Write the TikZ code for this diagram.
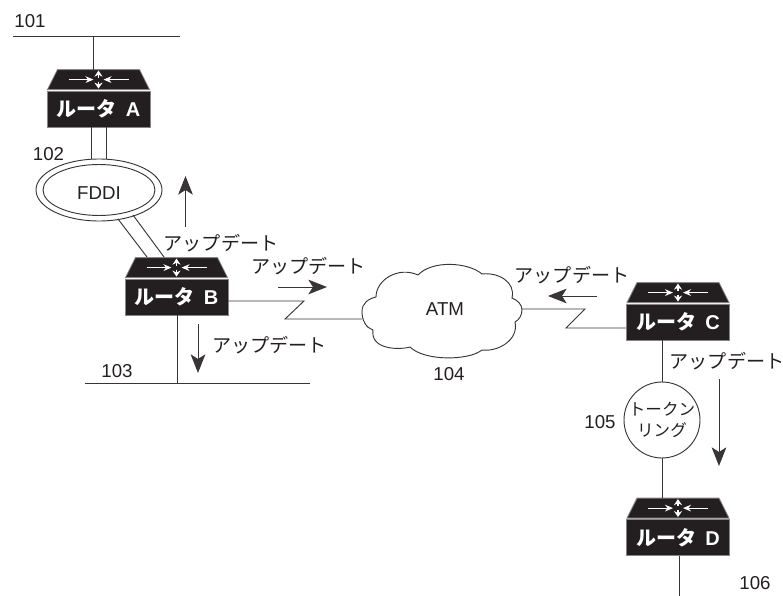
\documentclass[tikz,border=0pt]{standalone}
\usepackage{fontspec}
\setmainfont{Liberation Sans}
\newfontfamily\cjk{Noto Sans CJK JP}
\usetikzlibrary{arrows.meta, positioning, calc}
\definecolor{routerblack}{HTML}{231F20}

\tikzset{
    wire/.style={line width=0.7pt, draw=routerblack!90},
    update/.style={wire, -{Stealth[length=14pt, width=11pt, inset=3.5pt]}},
    tag/.style={font=\fontsize{14}{16}\selectfont, text=routerblack, inner sep=0pt},
    updatetext/.style={font=\fontsize{14.3}{16}\cjk\selectfont, text=routerblack, inner sep=0pt},
    routerbox/.style={fill=routerblack, draw=routerblack!55, line width=0.6pt, minimum width=77.25pt, minimum height=27pt,
        inner sep=0pt, text=white, font=\fontsize{15}{16}\bfseries\selectfont},
    routertop/.pic={
        \fill[routerblack, draw=routerblack!55, line width=0.6pt] (-51,-1) -- (-41,-21) -- (41,-21) -- (51,-1) -- cycle;
        \draw[white, line width=0.8pt, -{Stealth[length=6pt, width=5pt]}] (-30,-11) -- (-5,-11);
        \draw[white, line width=0.8pt, -{Stealth[length=6pt, width=5pt]}] (30,-11) -- (5,-11);
        \draw[white, line width=0.9pt, -{Stealth[length=4.5pt, width=6pt]}] (0,-13) -- (0,-20);
        \draw[white, line width=0.9pt, -{Stealth[length=4.5pt, width=6pt]}] (0,-9) -- (0,-2);
    }
}

\begin{document}
\begin{tikzpicture}[x=0.75pt, y=-0.75pt]
    \useasboundingbox (0,0) rectangle (783,596);

    % Routers
    \foreach \name/\x/\y/\letter in {routerA/98.5/109/A, routerB/176.5/297/B, routerC/678/322/C, routerD/678/537.5/D} {
        \node[routerbox] (\name) at (\x,\y) {{\cjk ルータ}\hspace{0.45em}\letter};
        \pic at (\name.north) {routertop};
    }

    % LAN 101
    \coordinate (lanAleft) at (13,36);
    \coordinate (lanAright) at (180,36);
    \coordinate (lanAdrop) at (93,36);
    \coordinate (routerAtop) at (93,70);
    \draw[wire] (lanAleft) -- (lanAright);
    \draw[wire] (lanAdrop) -- (routerAtop);
    \node[tag] (tagA) at (30,21) {101};

    % FDDI
    \node[tag] (fddi) at (99,193) {FDDI};
    \draw[wire] (99,190) ellipse (63 and 31);
    \draw[wire] (99,190) ellipse (56 and 25.5);
    \node[tag] (tagB) at (48.5,154) {102};
    \draw[wire] (91,127) -- (91,159);
    \draw[wire] (106,127) -- (106,159);
    \draw[wire] (118,219) -- (147,257);
    \draw[wire] (133,215) -- (164,257);

    % LAN 103
    \coordinate (lanBleft) at (85,383);
    \coordinate (lanBright) at (310,383);
    \coordinate (lanBdrop) at (177,383);
    \draw[wire] (lanBleft) -- (lanBright);
    \draw[wire] (routerB.south -| lanBdrop) -- (lanBdrop);
    \node[tag] (tagC) at (117,371) {103};

    % ATM
    \node[tag] (atm) at (445,309) {ATM};
    \draw[wire] (362,312) .. controls (362,303) and (368,299) .. (376,297)
        .. controls (376,280) and (398,266) .. (418,275)
        .. controls (432,260) and (468,262) .. (482,274)
        .. controls (498,272) and (516,282) .. (512,298)
        .. controls (517,300) and (522,304) .. (522,310)
        .. controls (522,315) and (519,320) .. (515,322)
        .. controls (519,340) and (498,352) .. (482,350)
        .. controls (468,361) and (424,361) .. (410,347)
        .. controls (400,350) and (370,350) .. (373,330)
        .. controls (366,328) and (362,320) .. (362,312) -- cycle;
    \node[tag] (tagD) at (449,374) {104};

    % Links over ATM
    \coordinate (atmleft) at (362,319);
    \coordinate (atmright) at (522,309);
    \draw[wire] (routerB.east |- 0,301) -- (304,301) -- (285,319) -- (atmleft);
    \draw[wire] (atmright) -- (585,309) -- (566,328) -- (routerC.west |- 0,328);

    % Token ring
    \node[draw=routerblack!90, line width=0.7pt, circle, minimum size=57pt, inner sep=0pt, text=routerblack, align=center,
        font=\fontsize{12.4}{15.5}\cjk\selectfont] (ring) at (662,420) {トークン\\リング};
    \node[tag] (tagE) at (600,422) {105};
    \draw[wire] (ring.north) -- (ring.north |- routerC.south);
    \draw[wire] (ring.south) -- (ring.south |- 0,498);
    \coordinate (tailD) at (679,596);
    \draw[wire] (routerD.south -| tailD) -- (tailD);
    \node[tag] (tagF) at (755,583) {106};

    % Updates
    \coordinate (upAfrom) at (185.5,227);
    \coordinate (upAto) at (185.5,176);
    \coordinate (upBfrom) at (278,287);
    \coordinate (upBto) at (327,287);
    \coordinate (upCfrom) at (198,324);
    \coordinate (upCto) at (198,373);
    \coordinate (upDfrom) at (597,296);
    \coordinate (upDto) at (548,296);
    \coordinate (upEfrom) at (719,379);
    \coordinate (upEto) at (719,466);
    \draw[update] (upAfrom) -- (upAto);
    \draw[update] (upBfrom) -- (upBto);
    \draw[update] (upCfrom) -- (upCto);
    \draw[update] (upDfrom) -- (upDto);
    \draw[update] (upEfrom) -- (upEto);
    \node[updatetext] (textA) at (221,243) {アップデート};
    \node[updatetext] (textB) at (308.5,266) {アップデート};
    \node[updatetext] (textC) at (269.5,345) {アップデート};
    \node[updatetext] (textD) at (572,275) {アップデート};
    \node[updatetext] (textE) at (727,361) {アップデート};
\end{tikzpicture}
\end{document}
